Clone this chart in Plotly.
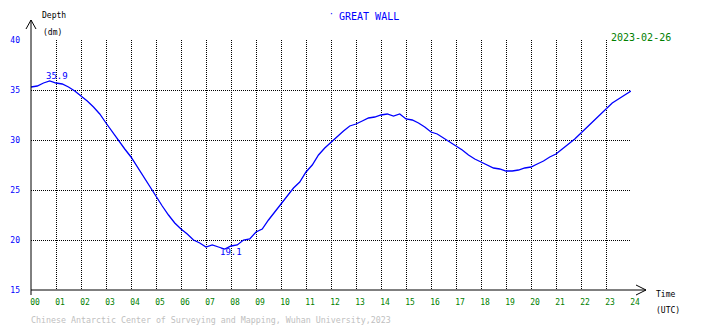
import plotly.graph_objects as go

# ---- data ----
hours = [i * 0.25 for i in range(97)]
depth_dm = [
    35.3, 35.4, 35.7, 35.9, 35.7, 35.6, 35.3, 34.9, 34.4, 33.9,
    33.3, 32.6, 31.7, 30.8, 29.9, 29.1, 28.3, 27.3, 26.3, 25.3,
    24.3, 23.4, 22.5, 21.7, 21.1, 20.6, 20.0, 19.7, 19.3, 19.5,
    19.3, 19.1, 19.4, 19.5, 20.0, 20.1, 20.8, 21.1, 22.0, 22.8,
    23.6, 24.3, 25.2, 25.8, 26.8, 27.5, 28.5, 29.2, 29.8, 30.4,
    30.9, 31.4, 31.6, 31.9, 32.2, 32.3, 32.5, 32.6, 32.4, 32.6,
    32.1, 32.0, 31.7, 31.3, 30.8, 30.6, 30.2, 29.8, 29.4, 29.0,
    28.5, 28.1, 27.8, 27.5, 27.2, 27.1, 26.9, 26.9, 27.0, 27.2,
    27.3, 27.6, 27.9, 28.3, 28.6, 29.1, 29.6, 30.1, 30.7, 31.3,
    31.9, 32.5, 33.1, 33.7, 34.1, 34.5, 34.9,
]
x_ticks = list(range(0, 25))
x_tick_labels = [f"{h:02d}" for h in x_ticks]
y_ticks = [15, 20, 25, 30, 35, 40]
y_tick_labels = [str(v) for v in y_ticks]

station = "GREAT WALL"
date_text = "2023-02-26"
footer = "Chinese Antarctic Center of Surveying and Mapping, Wuhan University,2023"

FONT = "DejaVu Sans Mono"
W, H = 710, 328
L, R, T, B = 31, 79, 40, 38
PW, PH = W - L - R, H - T - B


def px(xp):
    return (xp - L) / PW


def py(yp):
    return (H - B - yp) / PH


fig = go.Figure()
fig.add_trace(go.Scatter(
    x=hours, y=depth_dm, mode="lines",
    line=dict(color="#0000ff", width=1.3),
    hoverinfo="skip", showlegend=False,
))

i_max = depth_dm.index(max(depth_dm))
i_min = depth_dm.index(min(depth_dm))


def paper_text(xp, yp, text, size, color, xanchor="center"):
    return dict(x=px(xp), y=py(yp), xref="paper", yref="paper", text=text,
                xanchor=xanchor, yanchor="middle", showarrow=False,
                font=dict(family=FONT, size=size, color=color))


annotations = [
    dict(x=hours[i_max], y=depth_dm[i_max], xref="x", yref="y",
         text=f"{depth_dm[i_max]:.1f}", showarrow=False,
         xanchor="center", yanchor="middle",
         font=dict(family=FONT, size=9, color="#0000ff"),
         xshift=7, yshift=5),
    dict(x=hours[i_min], y=depth_dm[i_min], xref="x", yref="y",
         text=f"{depth_dm[i_min]:.1f}", showarrow=False,
         xanchor="center", yanchor="middle",
         font=dict(family=FONT, size=9, color="#0000ff"),
         xshift=6, yshift=-3),
    paper_text(369, 17, station, 10, "#0000ff"),
    paper_text(331, 15, "·", 8, "#0000ff"),
    paper_text(641, 37, date_text, 10, "#008000"),
    paper_text(40, 16, "Depth", 8, "#000000", "left"),
    paper_text(41, 33, "(dm)", 8, "#000000", "left"),
    paper_text(654, 294, "Time", 8, "#000000", "left"),
    paper_text(654, 310, "(UTC)", 8, "#000000", "left"),
    paper_text(29, 320, footer, 8.3, "#c0c0c0", "left"),
]

line_k = dict(color="#000000", width=1)
shapes = [
    dict(type="line", xref="paper", yref="paper", x0=px(31), x1=px(31), y0=py(20), y1=py(295), line=line_k),
    dict(type="line", xref="paper", yref="paper", x0=px(26), x1=px(31), y0=py(29), y1=py(20), line=line_k),
    dict(type="line", xref="paper", yref="paper", x0=px(36), x1=px(31), y0=py(29), y1=py(20), line=line_k),
    dict(type="line", xref="paper", yref="paper", x0=px(31), x1=px(646), y0=py(290), y1=py(290), line=line_k),
    dict(type="line", xref="paper", yref="paper", x0=px(636), x1=px(646), y0=py(285), y1=py(290), line=line_k),
    dict(type="line", xref="paper", yref="paper", x0=px(636), x1=px(646), y0=py(295), y1=py(290), line=line_k),
]

fig.update_layout(
    width=W, height=H,
    margin=dict(l=L, r=R, t=T, b=B, pad=0, autoexpand=False),
    paper_bgcolor="#ffffff", plot_bgcolor="#ffffff",
    annotations=annotations, shapes=shapes,
    xaxis=dict(range=[0, 24], tickvals=x_ticks, ticktext=x_tick_labels,
               showgrid=True, gridcolor="#000000", griddash="1px,1px", gridwidth=1,
               zeroline=False, showline=False, ticks="", automargin=False,
               tickfont=dict(family=FONT, size=8, color="#008000"),
               ticklabelshift=4, ticklabelstandoff=6, fixedrange=True),
    yaxis=dict(range=[15, 40], tickvals=y_ticks, ticktext=y_tick_labels,
               showgrid=True, gridcolor="#000000", griddash="1px,1px", gridwidth=1,
               zeroline=False, showline=False, ticks="", automargin=False,
               tickfont=dict(family=FONT, size=8, color="#0000ff"),
               ticklabelstandoff=10, fixedrange=True),
)

fig.write_html(
    "out.html",
    config={"displayModeBar": False},
    post_script="document.body.style.margin='0';document.body.style.padding='0';",
)
